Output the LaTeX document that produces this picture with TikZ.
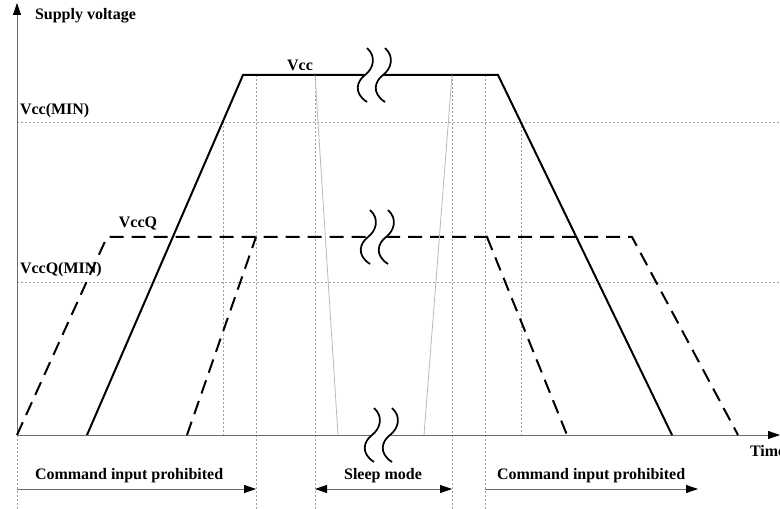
\documentclass[tikz,border=0pt]{standalone}
\usepackage{fontspec}
\setmainfont{Liberation Serif}
\usetikzlibrary{arrows.meta,positioning}
\tikzstyle{tag}=[
  font={\fontsize{12}{14}\selectfont\bfseries},
  inner sep=0pt,
  outer sep=0pt,
  text=black,
]
\tikzstyle{vccline}=[
  black,
  line width=1.5pt,
  line join=miter,
]
\tikzstyle{vccqline}=[
  black,
  line width=1.5pt,
  dash pattern=on 10.5pt off 6pt,
]
\tikzstyle{guide}=[
  gray!75,
  line width=0.5pt,
  dash pattern=on 1.5pt off 1.5pt,
]
\tikzstyle{axis}=[
  gray!85!black,
  line width=0.6pt,
]
\tikzstyle{slope}=[
  gray!55,
  line width=0.6pt,
]
\tikzstyle{squiggle}=[
  black,
  line width=1.3pt,
]
\tikzset{
  >={Triangle[length=9pt,width=6pt,color=black]},
  x=0.75pt,
  y=-0.75pt,
}
\begin{document}
\begin{tikzpicture}
      \useasboundingbox (0,0) rectangle (780,509);
      % points
      \coordinate (o) at (17,435);
      \coordinate (ytop) at (17,3);
      \coordinate (xend) at (780,435);
      \coordinate (brkl) at (372,435);
      \coordinate (brkr) at (390,435);
      % guides
      \draw [guide] (17,122) -- (780,122);
      \draw [guide] (17,282) -- (780,282);
      \draw [guide] (o) -- (17,509);
      \draw [guide] (223,122) -- (223,435);
      \draw [guide] (521,122) -- (521,435);
      \foreach \gx in {256,315,452,485}
        \draw [guide] (\gx,75) -- (\gx,509);
      % axes
      \draw [axis,->] (o) -- (ytop);
      \draw [axis] (o) -- (brkl);
      \draw [axis,->] (brkr) -- (xend);
      % Vcc
      \draw [vccline] (87,435) -- (243,75) -- (365,75);
      \draw [vccline] (383,75) -- (498,75) -- (672,435);
      % VccQ
      \draw [vccqline] (17,435) -- (107,237) -- (368,237);
      \draw [vccqline] (386,237) -- (632,237) -- (738,435);
      \draw [vccqline] (187,435) -- (256,237);
      \draw [vccqline] (487,237) -- (567,435);
      % sleep
      \draw [slope] (315,75) -- (338,435);
      \draw [slope] (452,75) -- (424,435);
      % breaks
      \foreach \cx/\cy in {365/75,368/237,372/435}
        \foreach \dx in {0,18}
          \draw [squiggle] (\cx+\dx+2,\cy-27) .. controls (\cx+\dx+12,\cy-18) and (\cx+\dx+8,\cy-6) .. (\cx+\dx,\cy)
            .. controls (\cx+\dx-8,\cy+6) and (\cx+\dx-12,\cy+18) .. (\cx+\dx+2,\cy+27);
      % labels
      \node (ylabel) [tag, anchor=west] at (35,16) {Supply voltage};
      \node (vccmin) [tag, anchor=west] at (20,111) {Vcc(MIN)};
      \node (vccqmin) [tag, anchor=west] at (20,270) {VccQ(MIN)};
      \node (vccq) [tag] at (138,224) {VccQ};
      \node (vcc) [tag] at (300,65) {Vcc};
      \node (time) [tag, anchor=west] at (750,451) {Time};
      \node (cmdon) [tag, anchor=west] at (35,476) {Command input prohibited};
      \node (sleep) [tag] at (383,476) {Sleep mode};
      \node (cmdoff) [tag, anchor=west] at (497,476) {Command input prohibited};
      % spans
      \coordinate (c1a) at (17,489);
      \coordinate (c1b) at (256,489);
      \coordinate (s1a) at (315,489);
      \coordinate (s1b) at (452,489);
      \coordinate (c2a) at (485,489);
      \coordinate (c2b) at (698,489);
      \draw [axis,->] (c1a) -- (c1b);
      \draw [axis,<->] (s1a) -- (s1b);
      \draw [axis,->] (c2a) -- (c2b);
    \end{tikzpicture}
\end{document}
